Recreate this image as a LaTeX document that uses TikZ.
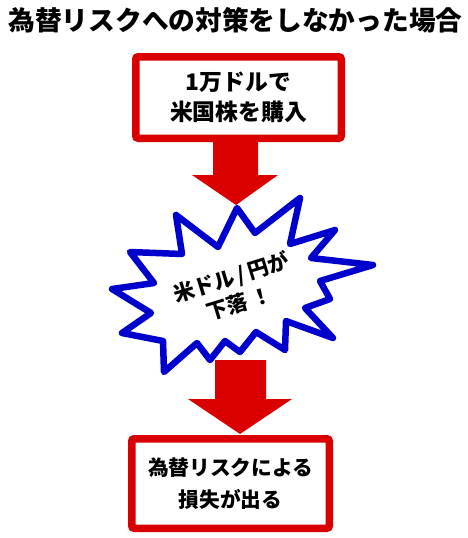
\documentclass[tikz,border=0pt]{standalone}
\usepackage{fontspec}
\setmainfont{Noto Sans CJK JP}
\definecolor{boxred}{RGB}{218,0,0}
\definecolor{burstblue}{RGB}{0,0,205}
\begin{document}
\begin{tikzpicture}[x=1pt,y=-1pt,
  redbox/.style={draw=boxred, line width=7.5pt, fill=white, rounded corners=2.5pt, align=center, inner sep=0pt},
  blockarrow/.style={fill=boxred, draw=none},
  burst/.style={draw=burstblue, fill=white, line width=6.5pt, line join=round}]
\useasboundingbox (0,0) rectangle (467,538);
% title
\node[font=\fontsize{26.7}{30}\selectfont\bfseries] (title) at (235.5,20) {為替リスクへの対策をしなかった場合};
% first box
\node[redbox, minimum width=205.5pt, minimum height=81.5pt, font=\fontsize{22.8}{30}\selectfont\bfseries] (start) at (238.5,97.5) {1万ドルで\\米国株を購入};
% starburst
\draw[burst] (237,208) -- (255,233) -- (300,198) -- (290,244) -- (335,230) -- (311,258)
  -- (373,265) -- (320,281) -- (330,299) -- (305,308) -- (333,338) -- (286,321)
  -- (285,350) -- (256,332) -- (240,352) -- (225,341) -- (210,360) -- (197,343)
  -- (164,372) -- (163,341) -- (122,333) -- (151,313) -- (112,289) -- (154,283)
  -- (130,252) -- (182,254) -- (176,215) -- (218,247) -- cycle;
\node[rotate=17, align=center, font=\fontsize{21}{27}\selectfont\bfseries] (drop) at (235,290) {米ドル\,/\,円が\\下落\,！};
% arrow 1
\fill[blockarrow] (213,140) -- (258,140) -- (258,175) -- (278,175) -- (236,205) -- (192,175) -- (213,175) -- cycle;
% arrow 2
\fill[blockarrow] (215,360) -- (266,360) -- (266,399) -- (292,399) -- (240,434) -- (188,399) -- (215,399) -- cycle;
% second box
\node[redbox, minimum width=197.5pt, minimum height=89.5pt, font=\fontsize{20.7}{32}\selectfont\bfseries] (loss) at (230.5,483.5) {為替リスクによる\\損失が出る};
\end{tikzpicture}
\end{document}
